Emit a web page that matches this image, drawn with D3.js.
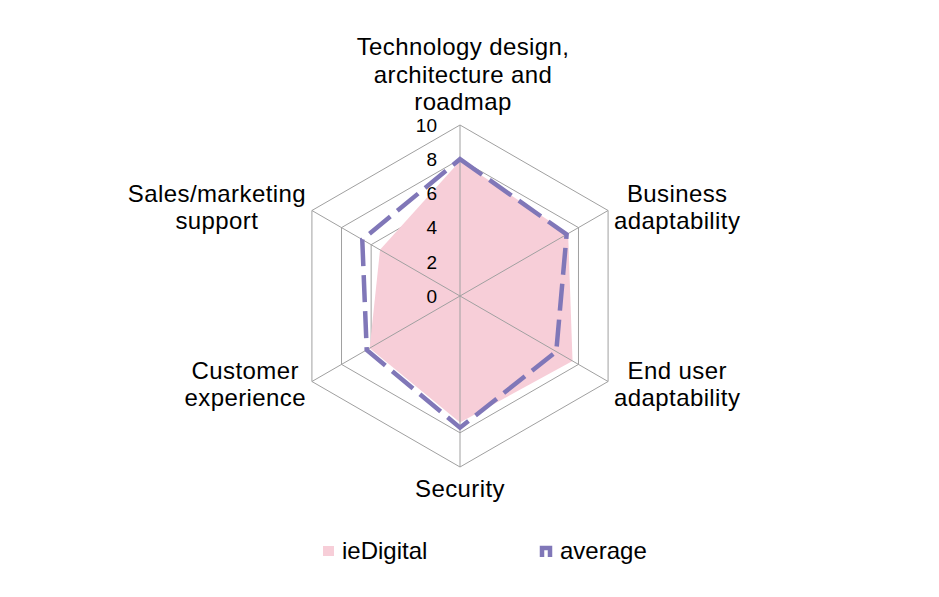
<!DOCTYPE html>
<html>
<head>
<meta charset="utf-8">
<script src="https://cdn.jsdelivr.net/npm/d3@7"></script>
<style>
  html, body { margin: 0; padding: 0; background: #fff; }
  svg { display: block; font-family: "Liberation Sans", Arial, sans-serif; }
</style>
</head>
<body>
<div id="main"></div>
<script>
"use strict";

// categories, clockwise from the top
const categories = [
    ["Technology design,", "architecture and", "roadmap"],
    ["Business", "adaptability"],
    ["End user", "adaptability"],
    ["Security"],
    ["Customer", "experience"],
    ["Sales/marketing", "support"]
];
const ieDigital = [7.9, 7.3, 7.6, 7.4, 6.1, 5.4];
const average = [8.0, 7.2, 6.5, 7.7, 6.3, 6.6];
const ticks = [0, 2, 4, 6, 8, 10];
const seriesNames = ["ieDigital", "average"];

const width = 939, height = 597;
const cx = 460, cy = 296, R = 171;
const pink = "#F7CED8", purple = "#8077B8", gridColor = "#A0A0A0";

function main() {
    const svg = d3.select("#main").append("svg")
        .attr("width", width)
        .attr("height", height);

    const g = svg.append("g").attr("transform", `translate(${cx},${cy})`);

    const r = d3.scaleLinear().domain([0, 10]).range([0, R]);
    const n = categories.length;
    const angle = i => i * 2 * Math.PI / n; // 0 = up, clockwise
    const px = (i, v) => r(v) * Math.sin(angle(i));
    const py = (i, v) => -r(v) * Math.cos(angle(i));

    const radial = d3.lineRadial()
        .angle((d, i) => angle(i))
        .radius(d => r(d))
        .curve(d3.curveLinearClosed);

    // hexagon gridlines (under the fill)
    g.append("g")
        .selectAll("path")
        .data(ticks.filter(t => t > 0))
        .join("path")
        .attr("d", t => radial(categories.map(() => t)))
        .attr("fill", "none")
        .attr("stroke", gridColor)
        .attr("stroke-width", 1);

    // ieDigital area
    g.append("path")
        .attr("d", radial(ieDigital))
        .attr("fill", pink);

    // spokes
    g.append("g")
        .selectAll("line")
        .data(categories)
        .join("line")
        .attr("x1", 0).attr("y1", 0)
        .attr("x2", (d, i) => px(i, 10))
        .attr("y2", (d, i) => py(i, 10))
        .attr("stroke", gridColor)
        .attr("stroke-width", 1);

    // average dashed line
    g.append("path")
        .attr("d", radial(average))
        .attr("fill", "none")
        .attr("stroke", purple)
        .attr("stroke-width", 4.5)
        .attr("stroke-dasharray", "27,9")
        .attr("stroke-linejoin", "miter");

    // tick labels along top spoke
    g.append("g")
        .style("font-size", "19px")
        .selectAll("text")
        .data(ticks)
        .join("text")
        .attr("x", -23)
        .attr("y", t => -r(t))
        .attr("dy", "0.36em")
        .attr("text-anchor", "end")
        .attr("fill", "#000")
        .text(t => t);

    // category labels
    const lineH = 27.5;
    const labels = g.append("g")
        .style("font-size", "24px")
        .style("letter-spacing", "0.4px")
        .attr("fill", "#000");

    categories.forEach((lines, i) => {
        const vx = px(i, 10), vy = py(i, 10);
        const t = labels.append("text").attr("text-anchor", "middle");
        lines.forEach(s => t.append("tspan").text(s));
        const widths = [];
        t.selectAll("tspan").each(function () { widths.push(this.getComputedTextLength()); });
        const w = d3.max(widths);
        let bx, firstBase;
        if (Math.abs(vx) < 1) {
            if (vy < 0) {
                bx = vx + 3;
                firstBase = vy - 15 - (lines.length - 1) * lineH;
            } else {
                bx = vx;
                firstBase = vy + 30;
            }
        } else {
            bx = vx > 0 ? vx + 6 + w / 2 : vx - 6 - w / 2;
            const blockMid = vy < 0 ? vy - 3 : vy + 3;
            firstBase = blockMid - (lines.length - 1) * lineH / 2 + 8;
        }
        t.selectAll("tspan")
            .attr("x", bx)
            .attr("y", (d, k) => firstBase + k * lineH);
    });

    // legend
    const legend = svg.append("g").style("font-size", "24px");
    legend.append("rect")
        .attr("x", 323).attr("y", 546)
        .attr("width", 11).attr("height", 10)
        .attr("fill", pink);
    legend.append("text")
        .attr("x", 342).attr("y", 551)
        .attr("dy", "0.35em")
        .text(seriesNames[0]);
    legend.append("path")
        .attr("d", "M542,557V548H550V557")
        .attr("fill", "none")
        .attr("stroke", purple)
        .attr("stroke-width", 4.5);
    legend.append("text")
        .attr("x", 560).attr("y", 551)
        .attr("dy", "0.35em")
        .text(seriesNames[1]);
}

main();
</script>
</body>
</html>
